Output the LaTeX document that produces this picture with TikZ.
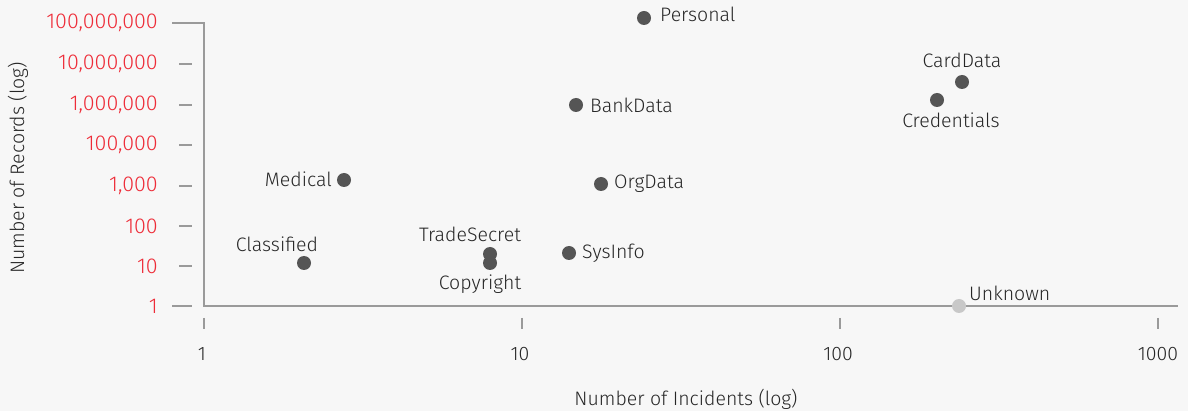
\documentclass[tikz,border=0pt]{standalone}
\usepackage{fontspec}
\setmainfont{Fira Sans Light}
\definecolor{bg}{HTML}{F7F7F7}
\definecolor{dotc}{HTML}{555555}
\definecolor{unk}{HTML}{C8C8C8}
\definecolor{axc}{HTML}{9A9A9A}
\definecolor{txt}{HTML}{262626}
\definecolor{redl}{HTML}{EE2C38}
\tikzset{
  dot/.style={circle,fill=dotc,inner sep=0pt,minimum size=14pt},
  udot/.style={circle,fill=unk,inner sep=0pt,minimum size=14pt},
  lbl/.style={text=txt,font=\fontsize{19.5}{22}\selectfont,inner sep=0pt},
  ylab/.style={text=redl,font=\fontsize{21.5}{22}\selectfont,inner sep=0pt,anchor=east},
  xlab/.style={text=txt,font=\fontsize{19.5}{22}\selectfont,inner sep=0pt},
  axis/.style={draw=axc,line width=1.5pt},
  tick/.style={draw=axc,line width=1.2pt}
}
\begin{document}
\begin{tikzpicture}[x=1pt,y=-1pt]
\fill[bg] (0,0) rectangle (1188,411);
\useasboundingbox (0,0) rectangle (1188,411);
% axes
\coordinate (ytop) at (204,23);
\coordinate (orig) at (204,306);
\coordinate (xend) at (1178,306);
\draw[axis] (172,23) -- (ytop) -- (orig) -- (xend);
\draw[tick] (172,306) -- (192,306);
\foreach \y in {64,105,145,186,226,266} \draw[tick] (179,\y) -- (192,\y);
\foreach \x in {204,522,840,1158} \draw[tick] (\x,318) -- (\x,329);
% y labels
\node[ylab] (y8) at (158,23) {100,000,000};
\node[ylab] (y7) at (158,64) {10,000,000};
\node[ylab] (y6) at (158,105) {1,000,000};
\node[ylab] (y5) at (158,145) {100,000};
\node[ylab] (y4) at (158,186) {1,000};
\node[ylab] (y3) at (158,226) {100};
\node[ylab] (y2) at (158,266) {10};
\node[ylab] (y1) at (158,306) {1};
% x labels
\node[xlab] (x1) at (202,354) {1};
\node[xlab] (x2) at (520,354) {10};
\node[xlab] (x3) at (838,354) {100};
\node[xlab] (x4) at (1158,354) {1000};
% titles
\node[lbl] (xt) at (686,399) {Number of Incidents (log)};
\node[lbl,rotate=90] (yt) at (18,168) {Number of Records (log)};
% dots
\node[dot] (personal) at (644,18) {};
\node[dot] (carddata) at (962,82) {};
\node[dot] (cred) at (937,100) {};
\node[dot] (bank) at (576,105) {};
\node[dot] (medical) at (344,180) {};
\node[dot] (org) at (601,184) {};
\node[dot] (classified) at (304,263) {};
\node[dot] (copyright) at (490,263) {};
\node[dot] (trade) at (490,254) {};
\node[dot] (sysinfo) at (569,253) {};
\node[udot] (unknown) at (959,306) {};
% labels
\node[lbl,anchor=west] (lpersonal) at (660,14) {Personal};
\node[lbl] (lcard) at (962,60) {CardData};
\node[lbl] (lcred) at (951,120) {Credentials};
\node[lbl,anchor=west] (lbank) at (590,105) {BankData};
\node[lbl,anchor=east] (lmed) at (332,179) {Medical};
\node[lbl,anchor=west] (lorg) at (614,184) {OrgData};
\node[lbl] (lclass) at (277,244) {Classified};
\node[lbl] (ltrade) at (470,234) {TradeSecret};
\node[lbl] (lcopy) at (480,284) {Copyright};
\node[lbl,anchor=west] (lsys) at (582,253) {SysInfo};
\node[lbl,anchor=west] (lunk) at (969,293) {Unknown};
\end{tikzpicture}
\end{document}
